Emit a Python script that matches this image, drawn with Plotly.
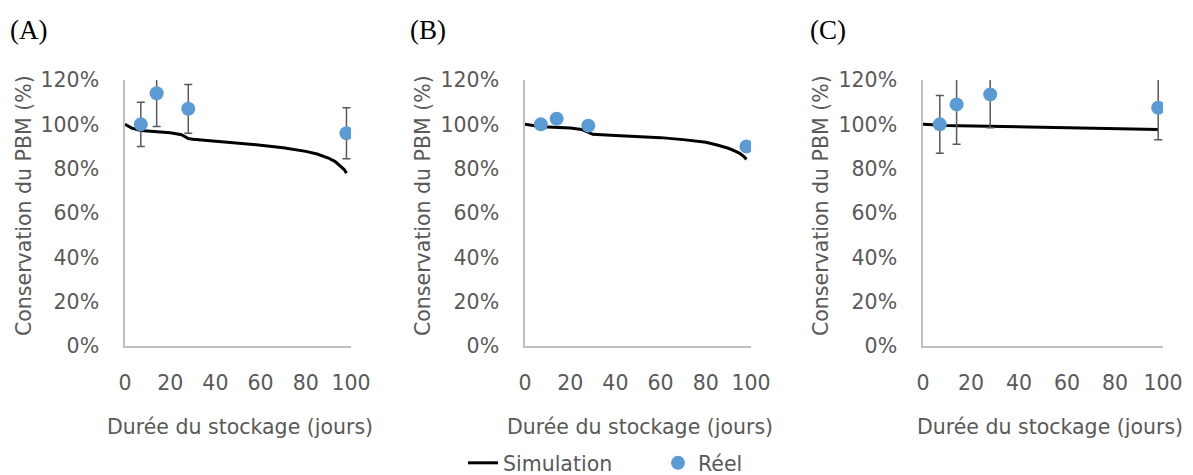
import plotly.graph_objects as go
from plotly.subplots import make_subplots

# storage days for the simulated curves and the measured points
sim_days = [0, 3, 7, 10, 15, 20, 25, 28, 30, 40, 50, 60, 70, 80, 85, 90, 93, 95, 97, 98]
sim_A = [100, 98.3, 97.2, 96.9, 96.6, 96.2, 95.3, 93.6, 93.3, 92.5, 91.6, 90.6, 89.4, 87.8, 86.6, 84.8, 83.2, 81.6, 79.6, 78.0]
sim_B = [100, 99.5, 98.9, 98.8, 98.6, 98.3, 97.7, 96.4, 95.5, 95.0, 94.5, 94.0, 93.1, 91.9, 90.7, 89.2, 87.9, 86.9, 85.3, 84.2]
sim_C = [100, 99.8, 99.6, 99.5, 99.4, 99.3, 99.2, 99.1, 99.1, 99.0, 98.8, 98.6, 98.4, 98.2, 98.1, 98.0, 97.9, 97.9, 97.8, 97.7]

reel_days = [7, 14, 28, 98]
reel_A = [100, 114, 107, 96]
err_A = [10, 15, 11, 11.5]
reel_B = [100, 102.5, 99.4, 90]
reel_C = [100, 109, 113.5, 107.5]
err_C = [13, 18, 15, 14.5]

panel_labels = ["(A)", "(B)", "(C)"]
x_title = "Durée du stockage (jours)"
y_title = "Conservation du PBM (%)"

# the page body has an 8px margin, so the figure is shifted by 8px
OFF = 8
W, H = 1193 - OFF, 475 - OFF
GRAY = "#595959"
AXIS = "#BFBFBF"
BLUE = "#5B9BD5"
FONT = "DejaVu Sans"
FS = 20.5


def fx(x):
    return (x - OFF) / W


def fy(y):
    return 1 - (y - OFF) / H


fig = make_subplots(rows=1, cols=3)

panels = [(sim_A, reel_A, err_A), (sim_B, reel_B, None), (sim_C, reel_C, err_C)]
for i, (sim, reel, err) in enumerate(panels):
    col = i + 1
    fig.add_trace(go.Scatter(x=sim_days, y=sim, mode="lines", name="Simulation",
                             line=dict(color="black", width=3),
                             showlegend=(i == 0), legendgroup="sim"),
                  row=1, col=col)
    ey = dict(type="data", array=err, visible=True, color=GRAY, thickness=1.5, width=4) if err else None
    fig.add_trace(go.Scatter(x=reel_days, y=reel, mode="markers", name="Réel",
                             marker=dict(color=BLUE, size=14),
                             error_y=ey, showlegend=(i == 0), legendgroup="reel"),
                  row=1, col=col)

# screen-pixel extents of the three plot areas
xdoms = [(125, 351), (525, 751), (923, 1163)]
ytop, ybot = 80, 346

for i, (x0, x1) in enumerate(xdoms):
    sfx = "" if i == 0 else str(i + 1)
    fig.layout["xaxis" + sfx].update(
        domain=[fx(x0), fx(x1)], range=[0, 100], dtick=20, showgrid=False, zeroline=False,
        showline=True, linecolor=AXIS, linewidth=1.5, ticks="", ticklabelstandoff=18,
        automargin=False, tickfont=dict(family=FONT, size=FS, color=GRAY))
    fig.layout["yaxis" + sfx].update(
        domain=[fy(ybot), fy(ytop)], range=[0, 120], dtick=20, ticksuffix="%", showgrid=False,
        zeroline=False, showline=True, linecolor=AXIS, linewidth=1.5, ticks="",
        ticklabelstandoff=20, automargin=False, tickfont=dict(family=FONT, size=FS, color=GRAY))

title_x = [240, 640, 1050]
ytitle_x = [24, 423, 821]
label_x = [8, 408, 808]
for i in range(3):
    fig.add_annotation(x=fx(title_x[i]), y=fy(427), xref="paper", yref="paper",
                       text=x_title, showarrow=False, xanchor="center", yanchor="middle",
                       font=dict(family=FONT, size=FS, color=GRAY))
    fig.add_annotation(x=fx(ytitle_x[i]), y=fy(206), xref="paper", yref="paper",
                       text=y_title, textangle=-90, showarrow=False, xanchor="center", yanchor="middle",
                       font=dict(family=FONT, size=FS, color=GRAY))
    fig.add_annotation(x=fx(label_x[i]), y=fy(30), xref="paper", yref="paper",
                       text=panel_labels[i], showarrow=False, xanchor="left", yanchor="middle",
                       font=dict(family="Liberation Serif", size=27, color="black"))

fig.update_layout(
    width=W, height=H, margin=dict(l=0, r=0, t=0, b=0, autoexpand=False),
    plot_bgcolor="white", paper_bgcolor="white",
    legend=dict(orientation="h", x=455 / W, xanchor="left", y=-OFF / H, yanchor="bottom",
                font=dict(family=FONT, size=FS, color=GRAY), entrywidth=150,
                bgcolor="rgba(0,0,0,0)"),
)

fig.write_html("out.html")
